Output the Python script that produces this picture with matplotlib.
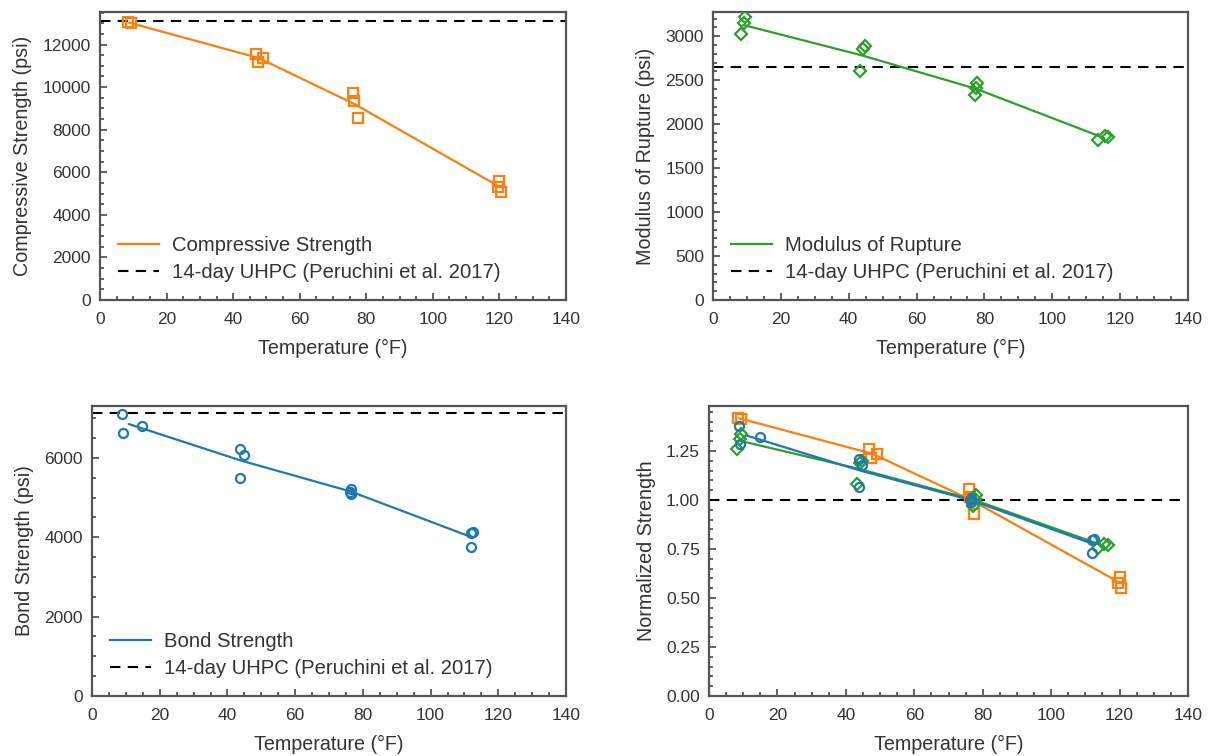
import numpy as np
import matplotlib
matplotlib.use("Agg")
import matplotlib.pyplot as plt
from matplotlib.ticker import MultipleLocator, FormatStrFormatter

plt.rcParams["font.family"] = ["Liberation Sans", "DejaVu Sans"]
plt.rcParams["font.size"] = 12.5

# ---- measured data (temperature in °F, strength in psi) ----
comp_temp = [8.4, 9.3, 46.8, 47.4, 49.0, 76.0, 76.3, 77.5, 119.6, 120.0, 120.4]
comp_psi = [13050, 13000, 11580, 11160, 11350, 9710, 9330, 8535, 5300, 5600, 5060]
comp_group = [0, 0, 1, 1, 1, 2, 2, 2, 3, 3, 3]

mor_temp = [9.4, 9.1, 8.3, 44.8, 44.2, 43.4, 77.9, 77.6, 77.3, 113.6, 115.5, 116.5]
mor_psi = [3215, 3147, 3022, 2885, 2851, 2601, 2465, 2408, 2329, 1818, 1860, 1852]
mor_group = [0, 0, 0, 1, 1, 1, 2, 2, 2, 3, 3, 3]

bond_temp = [8.8, 9.2, 14.9, 43.8, 44.8, 43.8, 76.5, 76.2, 76.6, 111.9, 112.6, 111.9]
bond_psi = [7099, 6635, 6811, 6224, 6064, 5494, 5214, 5150, 5088, 4113, 4130, 3760]
bond_group = [0, 0, 0, 1, 1, 1, 2, 2, 2, 3, 3, 3]

uhpc_comp = 13125
uhpc_mor = 2650
uhpc_bond = 7130
room_group = 2

ORANGE = "#ff7f0e"
GREEN = "#2ca02c"
BLUE = "#1f77b4"
TEXT = "#333333"
SPINE = "#555555"

LABEL_FS = 14.2
LEGEND_FS = 14.6


def group_means(temp, val, group):
    temp, val, group = map(np.asarray, (temp, val, group))
    gs = np.unique(group)
    mt = np.array([temp[group == g].mean() for g in gs])
    mv = np.array([val[group == g].mean() for g in gs])
    return mt, mv


def style(ax, ymajor, yminor, ylabel):
    ax.set_xlim(0, 140)
    ax.xaxis.set_major_locator(MultipleLocator(20))
    ax.xaxis.set_minor_locator(MultipleLocator(5))
    ax.yaxis.set_major_locator(MultipleLocator(ymajor))
    ax.yaxis.set_minor_locator(MultipleLocator(yminor))
    ax.tick_params(which="both", direction="in", color=SPINE, width=1.3,
                   labelcolor=TEXT, labelsize=12.5)
    ax.tick_params(which="major", length=5)
    ax.tick_params(axis="x", which="major", pad=8.5)
    ax.tick_params(axis="y", which="major", pad=6.5)
    ax.tick_params(which="minor", length=3)
    for s in ax.spines.values():
        s.set_color(SPINE)
        s.set_linewidth(1.6)
    ax.set_xlabel("Temperature (°F)", color=TEXT, fontsize=LABEL_FS, labelpad=8.5)
    ax.set_ylabel(ylabel, color=TEXT, fontsize=LABEL_FS, labelpad=7.5)


def panel(ax, temp, val, group, color, marker, ms, label, uhpc, ylim, ymaj, ymin, ylabel):
    mt, mv = group_means(temp, val, group)
    ax.plot(mt, mv, color=color, lw=1.6, label=label, zorder=3)
    ax.plot(temp, val, ls="none", marker=marker, ms=ms, mfc="none",
            mec=color, mew=1.6, zorder=4)
    ax.axhline(uhpc, color="black", lw=1.5, dashes=(5, 3.5),
               label="14-day UHPC (Peruchini et al. 2017)", zorder=2)
    ax.set_ylim(*ylim)
    style(ax, ymaj, ymin, ylabel)
    leg = ax.legend(loc="lower left", frameon=False, fontsize=LEGEND_FS,
                    handlelength=2.0, handletextpad=0.65,
                    borderaxespad=0.5, labelspacing=0.4)
    for t in leg.get_texts():
        t.set_color(TEXT)


fig = plt.figure(figsize=(12.11, 7.56), dpi=100)
W, H = 1211, 756
ax1 = fig.add_axes([100 / W, (H - 300) / H, 466 / W, 288 / H])
ax2 = fig.add_axes([713 / W, (H - 300) / H, 475 / W, 288 / H])
ax3 = fig.add_axes([92 / W, (H - 696) / H, 474 / W, 290 / H])
ax4 = fig.add_axes([709 / W, (H - 696) / H, 479 / W, 290 / H])

panel(ax1, comp_temp, comp_psi, comp_group, ORANGE, "s", 6.5, "Compressive Strength",
      uhpc_comp, (0, 13530), 2000, 500, "Compressive Strength (psi)")
panel(ax2, mor_temp, mor_psi, mor_group, GREEN, "D", 6.5, "Modulus of Rupture",
      uhpc_mor, (0, 3275), 500, 100, "Modulus of Rupture (psi)")
panel(ax3, bond_temp, bond_psi, bond_group, BLUE, "o", 6.5, "Bond Strength",
      uhpc_bond, (0, 7305), 2000, 500, "Bond Strength (psi)")

# Normalized by the mean strength at room temperature
series = [
    (comp_temp, comp_psi, comp_group, ORANGE, "s"),
    (mor_temp, mor_psi, mor_group, GREEN, "D"),
    (bond_temp, bond_psi, bond_group, BLUE, "o"),
]
for temp, val, group, color, marker in series:
    mt, mv = group_means(temp, val, group)
    ref = mv[room_group]
    norm = np.asarray(val) / ref
    ax4.plot(mt, mv / ref, color=color, lw=1.6, zorder=3)
    ax4.plot(temp, norm, ls="none", marker=marker, ms=6.5, mfc="none",
             mec=color, mew=1.6, zorder=4)
ax4.axhline(1.0, color="black", lw=1.5, dashes=(5, 3.5), zorder=2)
ax4.set_ylim(0, 1.48)
style(ax4, 0.25, 0.05, "Normalized Strength")
ax4.yaxis.set_major_formatter(FormatStrFormatter("%.2f"))

fig.savefig("out.png", dpi=100)
